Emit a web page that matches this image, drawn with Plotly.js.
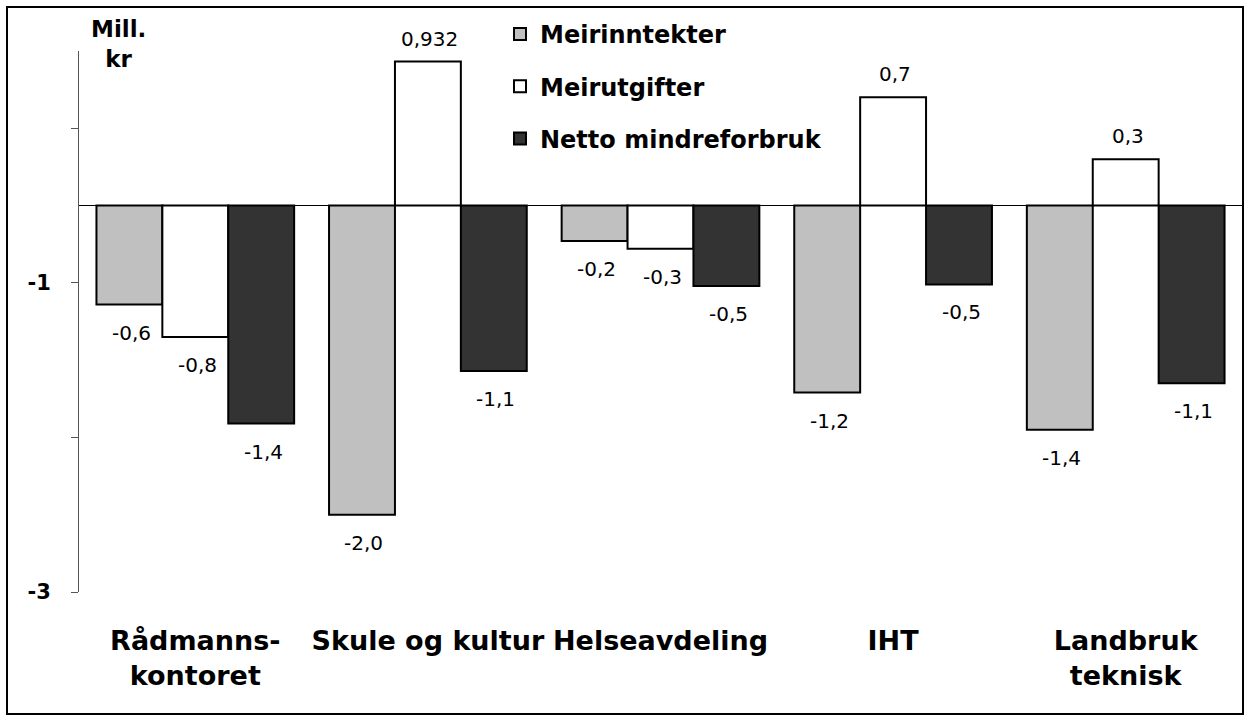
<!DOCTYPE html>
<html>
<head>
<meta charset="utf-8">
<script src="https://cdn.plot.ly/plotly-3.0.1.min.js"></script>
<style>html,body{margin:0;padding:0;background:#fff;}#chart{width:1246px;height:722px;}</style>
</head>
<body>
<div id="chart"></div>
<script>
// Categories
const categories = ["Rådmanns-<br>kontoret", "Skule og kultur", "Helseavdeling", "IHT", "Landbruk<br>teknisk"];
// Series names
const seriesNames = ["Meirinntekter", "Meirutgifter", "Netto mindreforbruk"];
// Series values (mill. kr)
const meirinntekter = [-0.64, -2.0, -0.23, -1.21, -1.45];
const meirutgifter = [-0.85, 0.932, -0.28, 0.70, 0.30];
const nettoMindreforbruk = [-1.41, -1.07, -0.52, -0.51, -1.15];
// Data labels as printed
const meirinntekterLabels = ["-0,6", "-2,0", "-0,2", "-1,2", "-1,4"];
const meirutgifterLabels = ["-0,8", "0,932", "-0,3", "0,7", "0,3"];
const nettoLabels = ["-1,4", "-1,1", "-0,5", "-0,5", "-1,1"];
// Y tick positions and labels
const yTickVals = [0.5, -0.5, -1.5, -2.5];
const yTickText = ["", "-1", "", "-3"];

const FONT = "DejaVu Sans, Arial, sans-serif";
const colors = ["#C0C0C0", "#FFFFFF", "#333333"];
const seriesValues = [meirinntekter, meirutgifter, nettoMindreforbruk];
const seriesLabels = [meirinntekterLabels, meirutgifterLabels, nettoLabels];

const data = seriesNames.map((name, i) => ({
  type: "bar", name: name, x: categories, y: seriesValues[i],
  hoverinfo: "none", legendgroup: "g" + i,
  marker: {color: colors[i], line: {color: "#000", width: 2}}
}));

const W = 1246, H = 722, L = 79, R = 4, T = 51, B = 130;
const pw = W - L - R, ph = H - T - B;
const BARGAP = 0.15;
function px2x(p){ return (p - L) / pw; }
function py2y(p){ return (H - B - p) / ph; }

// data-label annotations placed at the bar ends via the axes
const barW = pw / categories.length * (1 - BARGAP) / seriesNames.length;
const labelAnnotations = [];
seriesValues.forEach((vals, s) => {
  vals.forEach((v, c) => {
    labelAnnotations.push({
      xref: "x", yref: "y", x: categories[c], y: v,
      text: seriesLabels[s][c], showarrow: false,
      xshift: (s - 1) * barW + 2,
      yanchor: v >= 0 ? "bottom" : "top",
      yshift: v >= 0 ? 9 : -14,
      font: {family: FONT, size: 20, color: "#000"}
    });
  });
});

const layout = {
  width: W, height: H,
  margin: {l: L, r: R, t: T, b: B},
  paper_bgcolor: "#fff", plot_bgcolor: "#fff",
  barmode: "group", bargap: BARGAP, bargroupgap: 0,
  showlegend: true,
  legend: {
    x: px2x(500), y: py2y(12), xanchor: "left", yanchor: "top",
    font: {family: FONT, size: 24, color: "#000", weight: "bold"},
    itemwidth: 30, tracegroupgap: 18, traceorder: "grouped", bgcolor: "rgba(0,0,0,0)"
  },
  xaxis: {
    type: "category", showline: false, ticks: "", showgrid: false, zeroline: false,
    tickfont: {family: FONT, size: 27, color: "#000", weight: "bold"},
    ticklabelstandoff: 30, fixedrange: true
  },
  yaxis: {
    range: [-2.5, 1.0], tickvals: yTickVals, ticktext: yTickText,
    showline: true, linecolor: "#555", linewidth: 1,
    ticks: "outside", ticklen: 7, tickcolor: "#555", tickwidth: 1,
    showgrid: false, zeroline: true, zerolinecolor: "#000", zerolinewidth: 1,
    tickfont: {family: FONT, size: 21, color: "#000", weight: "bold"},
    ticklabelstandoff: 16, fixedrange: true
  },
  annotations: [{
    text: "Mill.<br>kr", xref: "paper", yref: "paper", x: px2x(118), y: py2y(14),
    xanchor: "center", yanchor: "top", showarrow: false,
    font: {family: FONT, size: 23, color: "#000", weight: "bold"}
  }].concat(labelAnnotations),
  shapes: [{
    type: "rect", xref: "paper", yref: "paper",
    x0: px2x(7), x1: px2x(1243), y0: py2y(714), y1: py2y(7),
    line: {color: "#000", width: 2}, fillcolor: "rgba(0,0,0,0)", layer: "above"
  }]
};
Plotly.newPlot("chart", data, layout, {displayModeBar: false, staticPlot: true});
</script>
</body>
</html>
